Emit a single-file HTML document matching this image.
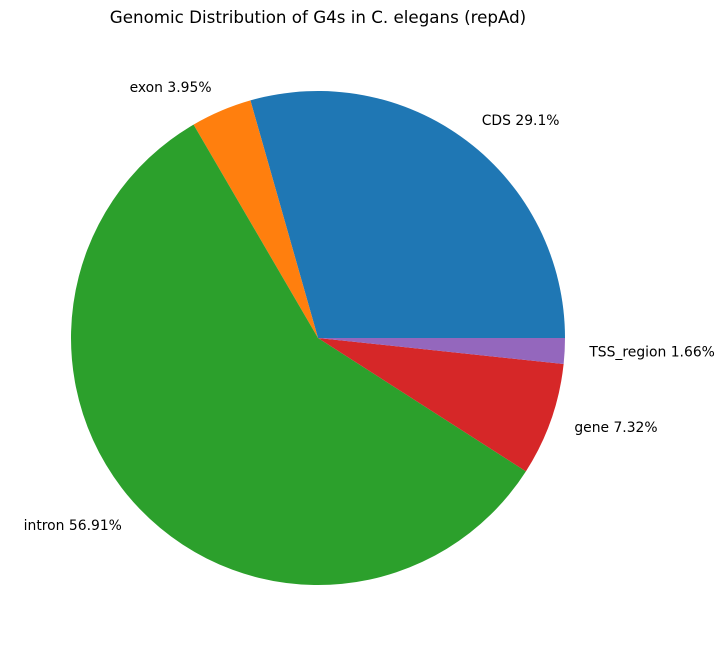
<!DOCTYPE html>
<html>
<head>
<meta charset="utf-8">
<style>
html,body{margin:0;padding:0;background:#fff;}
svg{display:block;font-family:"DejaVu Sans","Liberation Sans",sans-serif;}
</style>
</head>
<body>
<svg id="chart" width="724" height="656" viewBox="0 0 724 656">
  <rect width="724" height="656" fill="#fff"/>
  <text x="318" y="23" text-anchor="middle" font-size="16.7" fill="#000">Genomic Distribution of G4s in C. elegans (repAd)</text>
  <g id="slices"></g>
  <g id="labels"></g>
</svg>
<script>
const categories = ["CDS", "exon", "intron", "gene", "TSS_region"];
const values = [29.1, 3.95, 56.91, 7.32, 1.66];
const labelTexts = ["CDS 29.1%", "exon 3.95%", "intron 56.91%", "gene 7.32%", "TSS_region 1.66%"];
const colors = ["#1f77b4", "#ff7f0e", "#2ca02c", "#d62728", "#9467bd"];

const cx = 318, cy = 338, r = 247;
const NS = "http://www.w3.org/2000/svg";
const total = values.reduce((a, b) => a + b, 0);
function pt(deg, rad) {
  const a = deg * Math.PI / 180;
  return [cx + rad * Math.cos(a), cy - rad * Math.sin(a)];
}
const sg = document.getElementById("slices");
const lg = document.getElementById("labels");
let start = 0;
values.forEach((v, i) => {
  const sweep = v / total * 360;
  const end = start + sweep;
  const [x1, y1] = pt(start, r);
  const [x2, y2] = pt(end, r);
  const large = sweep > 180 ? 1 : 0;
  const p = document.createElementNS(NS, "path");
  p.setAttribute("d", `M${cx},${cy} L${x1},${y1} A${r},${r} 0 ${large} 0 ${x2},${y2} Z`);
  p.setAttribute("fill", colors[i]);
  
  
  sg.appendChild(p);
  const mid = start + sweep / 2;
  const [lx, ly] = pt(mid, r * 1.1);
  const t = document.createElementNS(NS, "text");
  t.setAttribute("x", lx);
  t.setAttribute("y", ly);
  t.setAttribute("font-size", "13.9");
  t.setAttribute("dominant-baseline", "central");
  t.setAttribute("text-anchor", Math.cos(mid * Math.PI / 180) > 0 ? "start" : "end");
  t.textContent = labelTexts[i];
  
  
  lg.appendChild(t);
  start = end;
});
</script>
</body>
</html>
